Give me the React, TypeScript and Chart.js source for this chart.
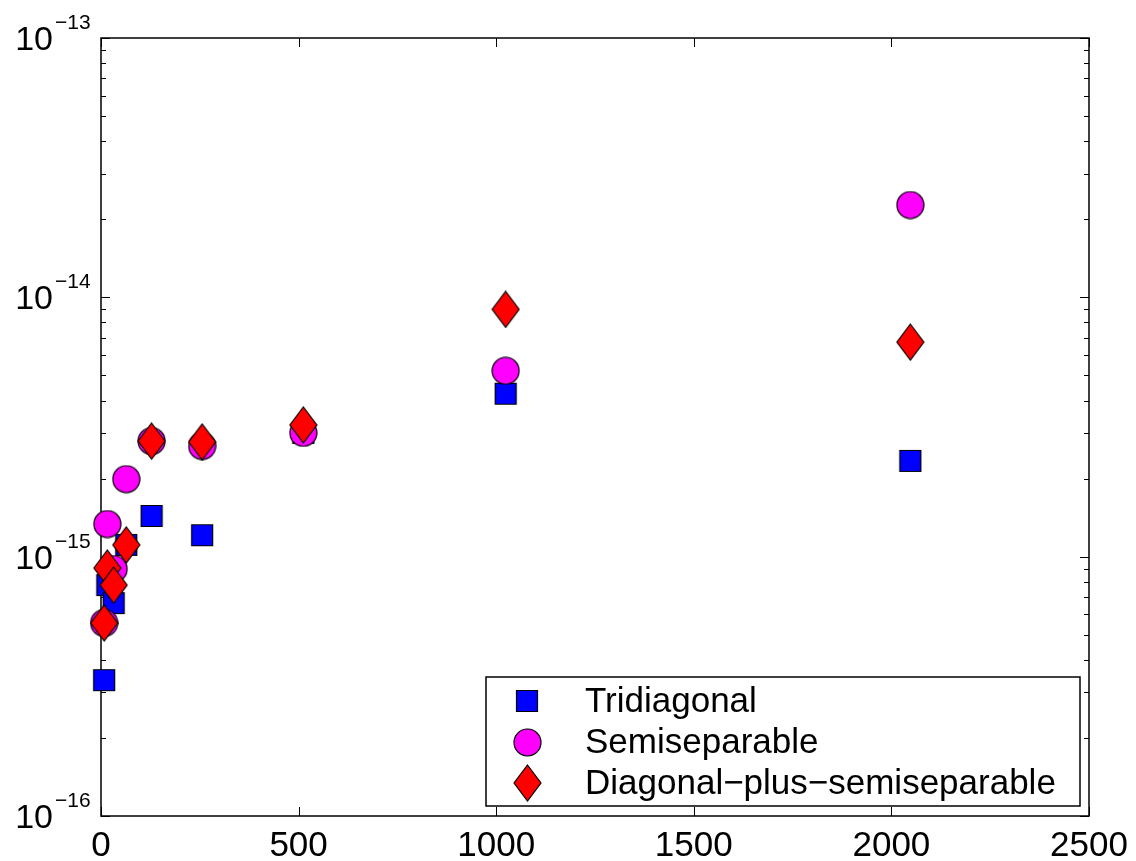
import React, { useEffect, useRef } from "react";
import { Chart, registerables } from "chart.js";

Chart.register(...registerables);

// ---- data ----
const sizes = [8, 16, 32, 64, 128, 256, 512, 1024, 2048];
const tridiagonal = [3.34e-16, 7.77e-16, 6.62e-16, 1.11e-15, 1.435e-15, 1.21e-15, 3.0e-15, 4.25e-15, 2.34e-15];
const semiseparable = [5.55e-16, 1.336e-15, 8.96e-16, 1.99e-15, 2.79e-15, 2.67e-15, 3.0e-15, 5.21e-15, 2.27e-14];
const diagPlusSemi = [5.55e-16, 9.04e-16, 7.77e-16, 1.11e-15, 2.79e-15, 2.77e-15, 3.22e-15, 8.99e-15, 6.72e-15];
const seriesLabels = ["Tridiagonal", "Semiseparable", "Diagonal\u2212plus\u2212semiseparable"];
const xTicks = [0, 500, 1000, 1500, 2000, 2500];
const xTickLabels = ["0", "500", "1000", "1500", "2000", "2500"];
const yDecades = [-16, -15, -14, -13];
const yTickExponents = ["\u221216", "\u221215", "\u221214", "\u221213"];

const FONT = '"Liberation Sans", Arial, Helvetica, sans-serif';

function makeMarker(kind: string): HTMLCanvasElement {
  const c = document.createElement("canvas");
  const ctx = c.getContext("2d") as CanvasRenderingContext2D;
  if (kind === "square") {
    c.width = 24;
    c.height = 24;
    ctx.beginPath();
    ctx.rect(1.5, 1.5, 21, 21);
    ctx.fillStyle = "#0000ff";
  } else if (kind === "circle") {
    c.width = 29;
    c.height = 29;
    ctx.beginPath();
    ctx.arc(14.5, 14.5, 13.5, 0, Math.PI * 2);
    ctx.fillStyle = "#ff00ff";
  } else {
    c.width = 29;
    c.height = 38;
    ctx.beginPath();
    ctx.moveTo(14.5, 1);
    ctx.lineTo(28, 19);
    ctx.lineTo(14.5, 37);
    ctx.lineTo(1, 19);
    ctx.closePath();
    ctx.fillStyle = "#ff0000";
  }
  ctx.fill();
  ctx.lineWidth = 1.2;
  ctx.strokeStyle = "#000000";
  ctx.stroke();
  return c;
}

export default function App() {
  const ref = useRef<HTMLCanvasElement | null>(null);

  useEffect(() => {
    const canvas = ref.current;
    if (!canvas) return;
    const markers = [makeMarker("square"), makeMarker("circle"), makeMarker("diamond")];
    const seriesValues = [tridiagonal, semiseparable, diagPlusSemi];

    const framePlugin = {
      id: "matlabFrame",
      beforeDatasetsDraw(chart: any) {
        const { ctx, chartArea } = chart;
        const xs = chart.scales.x;
        const ys = chart.scales.y;
        const { left, right, top, bottom } = chartArea;
        ctx.save();
        ctx.strokeStyle = "#000";
        ctx.lineWidth = 1;
        ctx.beginPath();
        xTicks.forEach((v) => {
          const px = Math.round(xs.getPixelForValue(v)) + 0.5;
          ctx.moveTo(px, bottom);
          ctx.lineTo(px, bottom - 9);
          ctx.moveTo(px, top);
          ctx.lineTo(px, top + 9);
        });
        for (let d = yDecades[0]; d <= yDecades[yDecades.length - 1]; d++) {
          for (let k = 1; k <= 9; k++) {
            if (d === yDecades[yDecades.length - 1] && k > 1) break;
            const v = k * Math.pow(10, d);
            const py = Math.round(ys.getPixelForValue(v)) + 0.5;
            const len = k === 1 ? 9 : 5;
            ctx.moveTo(left, py);
            ctx.lineTo(left + len, py);
            ctx.moveTo(right, py);
            ctx.lineTo(right - len, py);
          }
        }
        ctx.stroke();
        ctx.lineWidth = 1.5;
        ctx.strokeRect(left, top, right - left, bottom - top);
        ctx.restore();
      },
      afterDraw(chart: any) {
        const { ctx, chartArea } = chart;
        const xs = chart.scales.x;
        const ys = chart.scales.y;
        const { left, right, bottom } = chartArea;
        ctx.save();
        ctx.fillStyle = "#000";
        ctx.font = `35px ${FONT}`;
        ctx.textAlign = "center";
        ctx.textBaseline = "alphabetic";
        xTicks.forEach((v, i) => {
          ctx.fillText(xTickLabels[i], xs.getPixelForValue(v), bottom + 40);
        });
        yDecades.forEach((d, i) => {
          const py = ys.getPixelForValue(Math.pow(10, d));
          ctx.font = `34px ${FONT}`;
          ctx.textAlign = "right";
          ctx.fillText("10", left - 48, py + 12);
          ctx.font = `21px ${FONT}`;
          ctx.textAlign = "left";
          ctx.fillText(yTickExponents[i], left - 46, py - 9);
        });
        // legend
        const bx1 = right - 9;
        const by2 = bottom - 10;
        const bx0 = 486;
        const by0 = by2 - 129;
        ctx.fillStyle = "#fff";
        ctx.fillRect(bx0, by0, bx1 - bx0, by2 - by0);
        ctx.lineWidth = 1.5;
        ctx.strokeStyle = "#000";
        ctx.strokeRect(bx0, by0, bx1 - bx0, by2 - by0);
        ctx.font = `35px ${FONT}`;
        ctx.textAlign = "left";
        ctx.textBaseline = "middle";
        ctx.fillStyle = "#000";
        seriesLabels.forEach((lab, i) => {
          const cy = by0 + 24 + i * 41;
          const m = markers[i];
          ctx.drawImage(m, Math.round(bx0 + 41 - m.width / 2), Math.round(cy - m.height / 2));
          ctx.fillText(lab, bx0 + 99, cy + 1);
        });
        ctx.restore();
      },
    };

    const chart = new Chart(canvas, {
      type: "scatter",
      data: {
        datasets: seriesValues.map((vals, i) => ({
          label: seriesLabels[i],
          data: sizes.map((n, j) => ({ x: n, y: vals[j] })),
          pointStyle: markers[i] as any,
          pointRadius: 13,
          pointHoverRadius: 13,
          clip: false as any,
          order: 3 - i,
          showLine: false,
        })),
      },
      options: {
        animation: false,
        responsive: true,
        maintainAspectRatio: false,
        events: [],
        layout: { padding: { left: 101, top: 38, right: 47, bottom: 45 } },
        plugins: {
          legend: { display: false },
          tooltip: { enabled: false },
        },
        scales: {
          x: { type: "linear", min: 0, max: 2500, display: false },
          y: { type: "logarithmic", min: 1e-16, max: 1e-13, display: false },
        },
      },
      plugins: [framePlugin],
    });
    return () => chart.destroy();
  }, []);

  return (
    <div style={{ position: "fixed", left: 0, top: 0, width: 1136, height: 861, background: "#fff" }}>
      <canvas ref={ref} />
    </div>
  );
}
